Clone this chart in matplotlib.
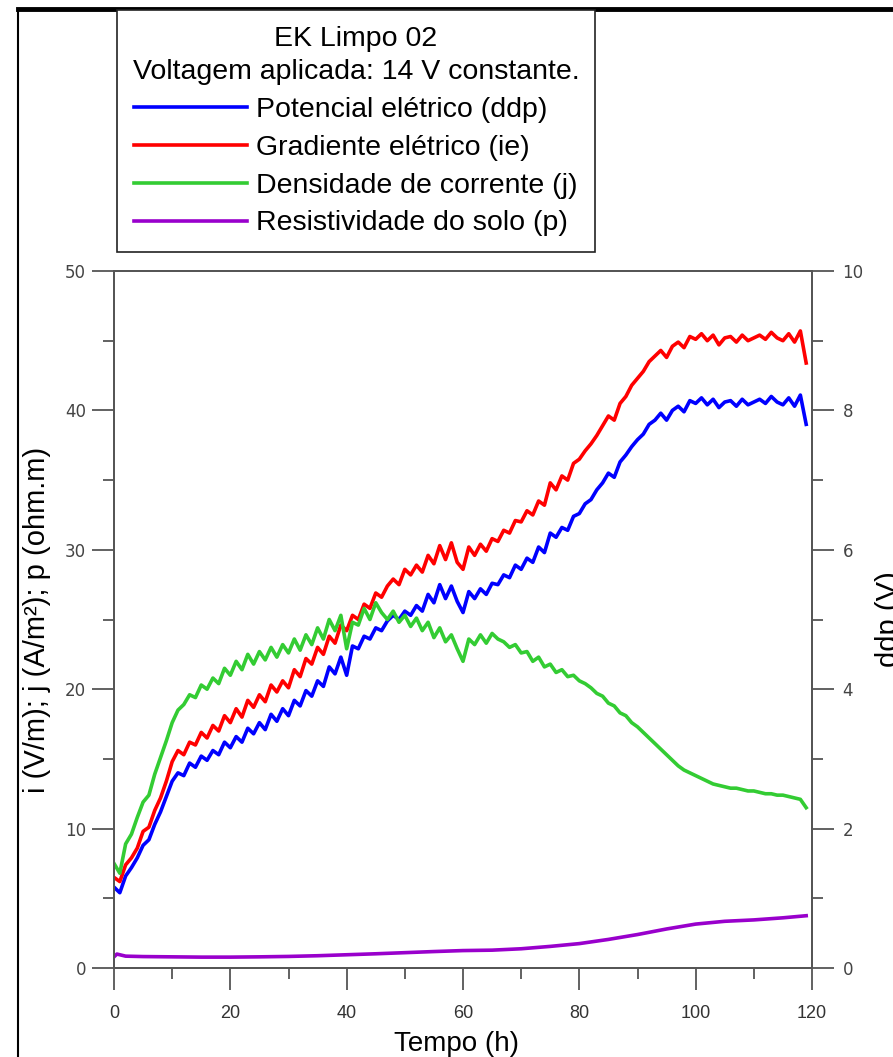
import numpy as np
import matplotlib
matplotlib.use("Agg")
import matplotlib.pyplot as plt
from matplotlib.lines import Line2D
from matplotlib.ticker import MultipleLocator

# time in hours (one reading per hour)
tempo = np.arange(0, 120)

# gradiente eletrico (V/m) - left axis
gradiente = [6.5, 6.2, 7.4, 7.9, 8.6, 9.8, 10.1, 11.3, 12.2, 13.4,
             14.8, 15.6, 15.3, 16.2, 16.0, 16.9, 16.5, 17.4, 17.0, 18.1,
             17.6, 18.6, 18.0, 19.2, 18.7, 19.6, 19.1, 20.3, 19.8, 20.6,
             20.1, 21.4, 20.9, 22.2, 21.8, 23.0, 22.5, 23.8, 23.3, 24.6,
             24.2, 25.3, 25.0, 26.1, 25.8, 26.9, 26.6, 27.4, 27.9, 27.5,
             28.6, 28.2, 28.9, 28.4, 29.6, 29.0, 30.3, 29.3, 30.5, 29.1,
             28.6, 30.2, 29.6, 30.4, 29.9, 30.8, 30.6, 31.4, 31.2, 32.1,
             32.0, 32.8, 32.5, 33.5, 33.2, 34.8, 34.3, 35.3, 35.0, 36.2,
             36.5, 37.1, 37.6, 38.2, 38.9, 39.6, 39.3, 40.5, 41.0, 41.8,
             42.3, 42.8, 43.5, 43.9, 44.3, 43.8, 44.6, 44.9, 44.5, 45.3,
             45.1, 45.5, 45.0, 45.4, 44.7, 45.2, 45.3, 44.9, 45.4, 45.0,
             45.2, 45.4, 45.1, 45.6, 45.2, 45.0, 45.5, 44.9, 45.7, 43.4]

# potencial eletrico ddp (V) - right axis
ddp = [1.16, 1.08, 1.32, 1.44, 1.58, 1.76, 1.84, 2.06, 2.24, 2.46,
       2.68, 2.80, 2.76, 2.94, 2.88, 3.04, 2.98, 3.12, 3.06, 3.24,
       3.16, 3.32, 3.24, 3.44, 3.36, 3.52, 3.42, 3.64, 3.54, 3.72,
       3.62, 3.84, 3.76, 3.98, 3.90, 4.12, 4.04, 4.32, 4.22, 4.46,
       4.20, 4.62, 4.58, 4.76, 4.72, 4.88, 4.84, 4.98, 5.06, 5.00,
       5.12, 5.06, 5.20, 5.12, 5.36, 5.24, 5.50, 5.30, 5.48, 5.26,
       5.10, 5.40, 5.30, 5.44, 5.36, 5.52, 5.50, 5.64, 5.60, 5.78,
       5.72, 5.88, 5.82, 6.04, 5.96, 6.24, 6.18, 6.32, 6.28, 6.48,
       6.52, 6.66, 6.72, 6.86, 6.96, 7.10, 7.04, 7.26, 7.36, 7.48,
       7.58, 7.66, 7.80, 7.86, 7.96, 7.86, 8.00, 8.06, 7.98, 8.14,
       8.10, 8.18, 8.08, 8.16, 8.04, 8.12, 8.14, 8.06, 8.16, 8.08,
       8.12, 8.16, 8.10, 8.20, 8.12, 8.08, 8.18, 8.06, 8.22, 7.80]

# densidade de corrente (A/m2)
corrente = [7.5, 6.8, 8.9, 9.6, 10.8, 11.9, 12.4, 13.9, 15.1, 16.3,
            17.6, 18.5, 18.9, 19.6, 19.4, 20.3, 20.0, 20.8, 20.4, 21.5,
            21.0, 22.0, 21.4, 22.5, 21.8, 22.7, 22.1, 23.0, 22.3, 23.2,
            22.6, 23.6, 22.8, 23.9, 23.2, 24.4, 23.6, 25.0, 24.2, 25.3,
            22.9, 24.8, 24.6, 25.8, 25.0, 26.2, 25.5, 25.0, 25.6, 24.8,
            25.3, 24.5, 25.1, 24.2, 24.8, 23.7, 24.4, 23.4, 23.9, 22.9,
            22.0, 23.6, 23.2, 23.9, 23.3, 24.0, 23.6, 23.4, 23.0, 23.2,
            22.6, 22.7, 22.0, 22.3, 21.6, 21.8, 21.2, 21.4, 20.9, 21.0,
            20.6, 20.4, 20.1, 19.7, 19.5, 19.0, 18.8, 18.3, 18.1, 17.6,
            17.3, 16.9, 16.5, 16.1, 15.7, 15.3, 14.9, 14.5, 14.2, 14.0,
            13.8, 13.6, 13.4, 13.2, 13.1, 13.0, 12.9, 12.9, 12.8, 12.7,
            12.7, 12.6, 12.5, 12.5, 12.4, 12.4, 12.3, 12.2, 12.1, 11.5]

# resistividade do solo (ohm.m)
tempo_res = [0, 0.5, 2, 5, 10, 15, 20, 25, 30, 35, 40, 45, 50, 55, 60,
             65, 70, 75, 80, 85, 90, 95, 100, 105, 110, 115, 119]
resistividade = [0.8, 1.0, 0.85, 0.82, 0.8, 0.78, 0.78, 0.8, 0.83, 0.88,
                 0.95, 1.02, 1.1, 1.18, 1.25, 1.28, 1.38, 1.55, 1.75, 2.05,
                 2.4, 2.8, 3.15, 3.35, 3.45, 3.6, 3.75]

FONT = 'Liberation Sans'
spine_col = '#555555'

fig = plt.figure(figsize=(8.93, 10.57), dpi=100)
W, H = 893.0, 1057.0
ax = fig.add_axes([114 / W, 1 - 968 / H, (812 - 114) / W, (968 - 271) / H])
ax2 = ax.twinx()
ax.set_zorder(ax2.get_zorder() + 1)
ax.patch.set_visible(False)

lw = 2.6
l_ddp, = ax2.plot(tempo, ddp, color='#0000ff', lw=lw)
l_grad, = ax.plot(tempo, gradiente, color='#ff0000', lw=lw)
l_cor, = ax.plot(tempo, corrente, color='#33cc33', lw=lw)
l_res, = ax.plot(tempo_res, resistividade, color='#9900cc', lw=lw)

ax.set_xlim(0, 120)
ax.set_ylim(0, 50)
ax2.set_ylim(0, 10)

ax.xaxis.set_major_locator(MultipleLocator(20))
ax.xaxis.set_minor_locator(MultipleLocator(10))
ax.yaxis.set_major_locator(MultipleLocator(10))
ax.yaxis.set_minor_locator(MultipleLocator(5))
ax2.yaxis.set_major_locator(MultipleLocator(2))
ax2.yaxis.set_minor_locator(MultipleLocator(1))

for a in (ax, ax2):
    for s in a.spines.values():
        s.set_color(spine_col)
        s.set_linewidth(1.3)

ax.tick_params(axis='both', which='major', direction='out', length=16,
               width=1.3, color=spine_col)
ax.tick_params(axis='both', which='minor', direction='out', length=8,
               width=1.3, color=spine_col)
ax2.tick_params(axis='y', which='major', direction='out', length=16,
                width=1.3, color=spine_col)
ax2.tick_params(axis='y', which='minor', direction='out', length=8,
                width=1.3, color=spine_col)

ax.tick_params(axis='y', labelsize=12, labelcolor='#444444', pad=4)
ax2.tick_params(axis='y', labelsize=12, labelcolor='#444444', pad=6)
ax.tick_params(axis='x', labelsize=13, labelcolor='#333333', pad=11)
for lab in ax.get_xticklabels():
    lab.set_family(FONT)

ax.set_xlabel('Tempo (h)', fontsize=20, family=FONT, labelpad=6)
ax.xaxis.set_label_coords((456 - 114) / 698, -0.09)
ax.set_ylabel('i (V/m); j (A/m²); p (ohm.m)', fontsize=21, family=FONT,
              labelpad=10)
ax2.set_ylabel('ddp (V)', fontsize=21, family=FONT, labelpad=8)

leg = fig.legend([l_ddp, l_grad, l_cor, l_res],
                 ['Potencial elétrico (ddp)', 'Gradiente elétrico (ie)',
                  'Densidade de corrente (j)', 'Resistividade do solo (p)'],
                 title='EK Limpo 02\nVoltagem aplicada: 14 V constante.',
                 loc='upper left', bbox_to_anchor=(117 / W, 1 - 10 / H),
                 bbox_transform=fig.transFigure, borderaxespad=0,
                 prop={'family': FONT, 'size': 20.5},
                 title_fontproperties={'family': FONT, 'size': 20.5},
                 handlelength=3.95, handletextpad=0.35, labelspacing=0.42,
                 borderpad=0.55, fancybox=False, edgecolor='#222222',
                 framealpha=1)
leg.get_frame().set_linewidth(1.2)
leg.get_title().set_multialignment('center')
leg.get_title().set_linespacing(1.35)
for line in leg.get_lines():
    line.set_linewidth(2.6)

# screenshot frame lines
fig.add_artist(Line2D([18 / W, 1], [1 - 9 / H, 1 - 9 / H], color='black',
                      lw=3.5, transform=fig.transFigure))
fig.add_artist(Line2D([18 / W, 18 / W], [0, 1 - 9 / H], color='black',
                      lw=1.5, transform=fig.transFigure))

fig.savefig('out.png', dpi=100)
